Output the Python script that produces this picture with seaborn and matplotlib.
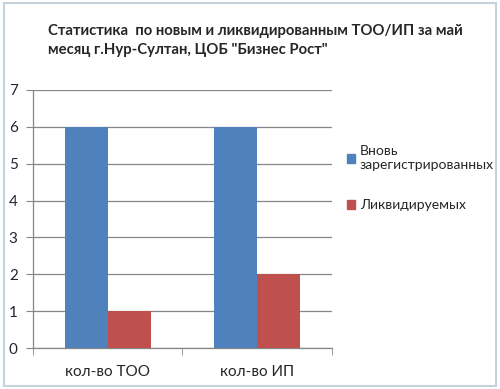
import pandas as pd
import matplotlib.pyplot as plt
import seaborn as sns
from matplotlib.patches import Rectangle, Patch

categories = ["кол-во ТОО", "кол-во ИП"]
series = ["Вновь\nзарегистрированных", "Ликвидируемых"]
new_vals = [6, 6]
liq_vals = [1, 2]
colors = ["#4F81BD", "#C0504D"]

df = pd.DataFrame({
    "cat": categories * 2,
    "series": [series[0]] * 2 + [series[1]] * 2,
    "val": new_vals + liq_vals,
})

sns.set_style("white")
plt.rcParams["font.family"] = ["Lato", "DejaVu Sans"]

fig = plt.figure(figsize=(5, 3.89), dpi=100)
ax = fig.add_axes([0.066, 0.105, 0.598, 0.664])

sns.barplot(data=df, x="cat", y="val", hue="series", palette=colors,
            width=0.575, saturation=1, ax=ax, legend=False, zorder=3,
            linewidth=0)

grid = "#868686"
ax.set_ylim(0, 7)
ax.set_xlim(-0.5, 1.5)
ax.set_yticks(range(0, 8))
ax.yaxis.grid(True, color=grid, linewidth=0.9, zorder=0)
ax.tick_params(axis="y", length=5, color=grid, labelsize=11, pad=6, left=True)
ax.tick_params(axis="x", length=0, labelsize=11, pad=12)
ax.set_xticks([-0.5, 0.5, 1.5], minor=True)
ax.tick_params(axis="x", which="minor", length=5, color=grid, bottom=True)
for s in ["top", "right"]:
    ax.spines[s].set_visible(False)
for s in ["left", "bottom"]:
    ax.spines[s].set_color(grid)
    ax.spines[s].set_linewidth(0.9)
ax.set_xlabel("")
ax.set_ylabel("")

fig.text(0.096, 0.895, "Статистика  по новым и ликвидированным ТОО/ИП за май\nмесяц г.Нур-Султан, ЦОБ \"Бизнес Рост\"",
         fontsize=10.75, fontweight="bold", va="center", ha="left", linespacing=1.45)

handles = [Patch(color=c) for c in colors]
fig.legend(handles, series, loc="upper left", bbox_to_anchor=(0.672, 0.655),
           frameon=False, fontsize=10, handlelength=0.6, handleheight=0.6,
           handletextpad=0.3, labelspacing=2.0, borderpad=0.3)

fig.patches.append(Rectangle((0.008, 0.008), 0.984, 0.984, transform=fig.transFigure,
                             fill=False, edgecolor="#C5D3DC", linewidth=1.5))

fig.savefig("out.png", dpi=100)
